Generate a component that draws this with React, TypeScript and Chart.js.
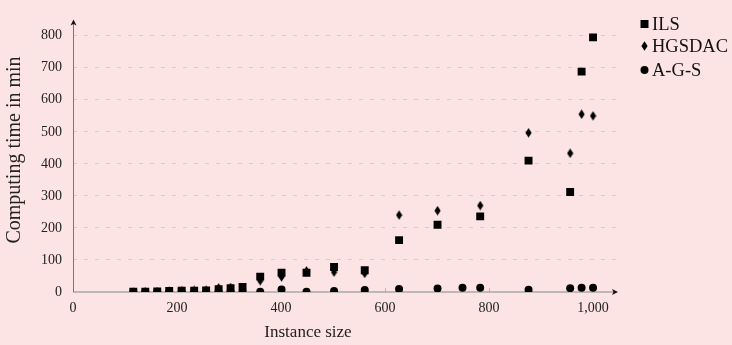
import { useEffect, useRef } from "react";
import { Chart, registerables } from "chart.js";

Chart.register(...registerables);

// ---- data ----
const ILS_X = [116, 139, 162, 185, 209, 233, 256, 280, 303, 326, 360, 401, 449, 502, 561, 627, 701, 783, 876, 956, 978, 1000];
const ILS_Y = [1, 1, 2, 3, 4, 4, 5, 9, 12, 16, 48, 60, 60, 78, 68, 162, 210, 236, 410, 312, 688, 795];
const HGS_X = [116, 139, 162, 185, 209, 233, 256, 280, 303, 326, 360, 401, 449, 502, 561, 627, 701, 783, 876, 956, 978, 1000];
const HGS_Y = [0, 1, 1, 3, 4, 5, 6, 13, 14, 14, 35, 47, 66, 62, 58, 240, 254, 270, 497, 433, 555, 550];
const AGS_X = [116, 139, 162, 185, 209, 233, 256, 280, 303, 326, 360, 401, 449, 502, 561, 627, 701, 749, 783, 876, 956, 978, 1000];
const AGS_Y = [0, 0, 0, 0, 0, 0, 0, 1, 1, 1, 1, 8, 1, 3, 6, 9, 11, 13, 13, 7, 12, 13, 13];
const SERIES = ["ILS", "HGSDAC", "A-G-S"];
const X_TICKS = [0, 200, 400, 600, 800, 1000];
const Y_TICKS = [0, 100, 200, 300, 400, 500, 600, 700, 800];
const X_TITLE = "Instance size";
const Y_TITLE = "Computing time in min";

const BG = "#fde4e4";
const FONT = "'Liberation Serif', 'Times New Roman', serif";

function pts(xs: number[], ys: number[]) {
  return xs.map((x, i) => ({ x, y: ys[i] }));
}

function makeDiamond() {
  const c = document.createElement("canvas");
  c.width = 7;
  c.height = 10;
  const g = c.getContext("2d")!;
  g.fillStyle = "#000";
  g.beginPath();
  g.moveTo(3.5, 0.3);
  g.lineTo(6.6, 5);
  g.lineTo(3.5, 9.7);
  g.lineTo(0.4, 5);
  g.closePath();
  g.fill();
  return c;
}

export default function App() {
  const ref = useRef<HTMLCanvasElement>(null);
  useEffect(() => {
    document.body.style.margin = "0";
    document.body.style.background = BG;
    const diamond = makeDiamond();

    const decor = {
      id: "decor",
      beforeDatasetsDraw(chart: any) {
        const { ctx, chartArea } = chart;
        const { left, right, top, bottom } = chartArea;
        const xs = chart.scales.x;
        ctx.save();
        // x tick marks
        ctx.strokeStyle = "#bbb";
        ctx.lineWidth = 1;
        X_TICKS.forEach((v) => {
          if (v === 0) return;
          const px = Math.round(xs.getPixelForValue(v)) + 0.5;
          ctx.beginPath();
          ctx.moveTo(px, bottom);
          ctx.lineTo(px, bottom - 4);
          ctx.stroke();
        });
        // x axis
        ctx.strokeStyle = "#a8a8a8";
        ctx.lineWidth = 1.6;
        ctx.beginPath();
        ctx.moveTo(left, bottom);
        ctx.lineTo(right - 3, bottom);
        ctx.stroke();
        // y axis
        ctx.strokeStyle = "#777";
        ctx.lineWidth = 1;
        ctx.beginPath();
        ctx.moveTo(left + 0.5, bottom);
        ctx.lineTo(left + 0.5, top + 3);
        ctx.stroke();
        // arrows
        ctx.fillStyle = "#111";
        ctx.beginPath();
        ctx.moveTo(right, bottom);
        ctx.lineTo(right - 6, bottom - 3);
        ctx.lineTo(right - 4.5, bottom);
        ctx.lineTo(right - 6, bottom + 3);
        ctx.closePath();
        ctx.fill();
        ctx.beginPath();
        ctx.moveTo(left + 0.5, top);
        ctx.lineTo(left - 2.5, top + 6);
        ctx.lineTo(left + 0.5, top + 4.5);
        ctx.lineTo(left + 3.5, top + 6);
        ctx.closePath();
        ctx.fill();
        ctx.restore();
      },
      afterDraw(chart: any) {
        const { ctx } = chart;
        ctx.save();
        ctx.fillStyle = "#222";
        // axis titles
        ctx.font = `17px ${FONT}`;
        ctx.textAlign = "center";
        ctx.textBaseline = "alphabetic";
        ctx.fillText(X_TITLE, 308, 337);
        ctx.save();
        ctx.translate(20, 150);
        ctx.rotate(-Math.PI / 2);
        ctx.font = `20px ${FONT}`;
        ctx.fillText(Y_TITLE, 0, 0);
        ctx.restore();
        // legend
        const mx = 644.5;
        const ys = [24, 46, 70];
        const bases = [29.5, 52, 76];
        ctx.fillStyle = "#000";
        ctx.fillRect(mx - 4, ys[0] - 4, 8, 8);
        ctx.drawImage(diamond, mx - 3.5, ys[1] - 5);
        ctx.beginPath();
        ctx.arc(mx, ys[2], 4, 0, Math.PI * 2);
        ctx.fill();
        ctx.fillStyle = "#111";
        ctx.font = `18.5px ${FONT}`;
        ctx.textAlign = "left";
        SERIES.forEach((s, i) => ctx.fillText(s, 652, bases[i]));
        ctx.restore();
      },
    };

    const chart = new Chart(ref.current!, {
      type: "scatter",
      data: {
        datasets: [
          {
            label: SERIES[0],
            data: pts(ILS_X, ILS_Y),
            pointStyle: "rect",
            pointRadius: 5.6,
            backgroundColor: "#000",
            borderColor: "#000",
            borderWidth: 0,
            order: 3,
          },
          {
            label: SERIES[1],
            data: pts(HGS_X, HGS_Y),
            pointStyle: diamond as any,
            pointRadius: 4,
            backgroundColor: "#000",
            borderColor: "#000",
            borderWidth: 0,
            order: 2,
          },
          {
            label: SERIES[2],
            data: pts(AGS_X, AGS_Y),
            pointStyle: "circle",
            pointRadius: 4,
            backgroundColor: "#000",
            borderColor: "#000",
            borderWidth: 0,
            order: 1,
          },
        ],
      },
      options: {
        responsive: false,
        animation: false,
        layout: { padding: { left: 0, top: 8, right: 114, bottom: 0 } },
        plugins: { legend: { display: false }, tooltip: { enabled: false } },
        scales: {
          x: {
            type: "linear",
            min: 0,
            max: 1048,
            afterBuildTicks: (s: any) => {
              s.ticks = X_TICKS.map((v) => ({ value: v }));
            },
            afterFit: (s: any) => {
              s.height = 53;
            },
            grid: { display: false, drawTicks: false },
            border: { display: false },
            ticks: {
              font: { family: FONT, size: 14 },
              color: "#222",
              padding: 8,
              maxRotation: 0,
              autoSkip: false,
              callback: (v: any) => Number(v).toLocaleString("en-US"),
            },
          },
          y: {
            type: "linear",
            min: 0,
            max: 851,
            afterBuildTicks: (s: any) => {
              s.ticks = Y_TICKS.map((v) => ({ value: v }));
            },
            afterFit: (s: any) => {
              s.width = 73;
            },
            grid: {
              drawTicks: false,
              lineWidth: 1,
              color: (c: any) => (c.tick && c.tick.value === 0 ? "rgba(0,0,0,0)" : "#d6caca"),
            },
            border: { display: false, dash: [4, 7] },
            ticks: {
              font: { family: FONT, size: 14 },
              color: "#222",
              padding: 11,
              autoSkip: false,
            },
          },
        },
      },
      plugins: [decor],
    });
    return () => chart.destroy();
  }, []);
  return (
    <div style={{ width: 732, height: 345, background: BG }}>
      <canvas ref={ref} width={732} height={345} style={{ display: "block", width: 732, height: 345 }} />
    </div>
  );
}
